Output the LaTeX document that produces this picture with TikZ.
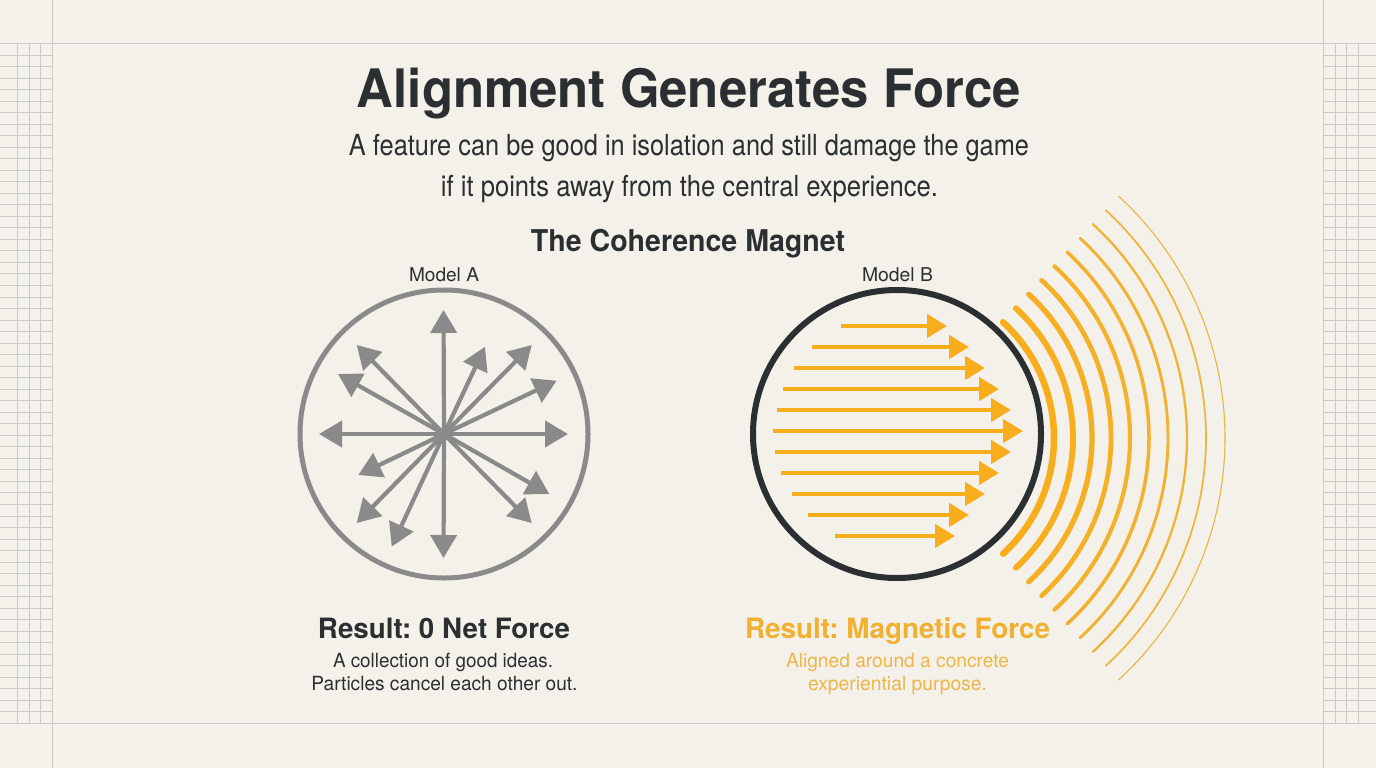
\documentclass[tikz,border=0pt]{standalone}
\usepackage{fontspec}
\setmainfont{TeX Gyre Heros}
\usetikzlibrary{arrows.meta}
\definecolor{bg}{HTML}{F3F1E9}
\definecolor{gridc}{HTML}{C8CACA}
\definecolor{dark}{HTML}{2B2F31}
\definecolor{grayA}{HTML}{8A8A8A}
\definecolor{yel}{HTML}{F8AE1C}
\definecolor{yelout}{HTML}{EDB543}
\definecolor{yeltitle}{HTML}{F1B02F}
\definecolor{yelsub}{HTML}{EDB64A}
\frenchspacing
\newcommand{\fitw}[3]{\resizebox{#1}{\height}{\fontsize{#2}{#2}\selectfont\frenchspacing #3}}
\begin{document}
\begin{tikzpicture}[x=1bp,y=-1bp,
  txt/.style={anchor=base,inner sep=0pt,outer sep=0pt},
  gridl/.style={draw=gridc,line width=1bp},
  mainl/.style={draw=gridc,line width=1.5bp},
  grayarrow/.style={draw=grayA,line width=4.2bp,-{Triangle[length=23bp,width=26bp]}},
  yelarrow/.style={draw=yel,line width=4.4bp,-{Triangle[length=20bp,width=23bp]}}]
\fill[bg] (0,0) rectangle (1376,768);
\useasboundingbox (0,0) rectangle (1376,768);
% side grids
\foreach \i in {1,...,58} {
  \pgfmathsetmacro\gy{round(43+11.525*\i)+0.5}
  \draw[gridl] (0,\gy) -- (52,\gy);
  \draw[gridl] (1323,\gy) -- (1376,\gy);
}
\foreach \x in {17.5,29.5,40.5} \draw[gridl] (\x,43) -- (\x,723);
\foreach \x in {1335.5,1346.5,1358.5} \draw[gridl] (\x,43) -- (\x,723);
\draw[mainl] (0,43.5) -- (1376,43.5);
\draw[mainl] (0,723.5) -- (1376,723.5);
\draw[mainl] (52.5,0) -- (52.5,768);
\draw[mainl] (1323.5,0) -- (1323.5,768);
% texts
\node[txt,text=dark] (title) at (689,107) {\fitw{664bp}{53bp}{\bfseries Alignment Generates Force}};
\node[txt,text=dark] (sub1) at (689,155) {\fitw{680bp}{29bp}{A feature can be good in isolation and still damage the game}};
\node[txt,text=dark] (sub2) at (689.5,196) {\fitw{497bp}{29bp}{if it points away from the central experience.}};
\node[txt,text=dark] (head) at (688,251) {\fitw{314bp}{30bp}{\bfseries The Coherence Magnet}};
\node[txt,text=dark] (modA) at (444,281) {\fitw{70bp}{19bp}{Model A}};
\node[txt,text=dark] (modB) at (897.5,281) {\fitw{71bp}{19bp}{Model B}};
\node[txt,text=dark] (resA) at (444,638.5) {\fitw{252bp}{28bp}{\bfseries Result: 0 Net Force}};
\node[txt,text=dark] (resA1) at (443,667) {\fitw{220bp}{19.5bp}{A collection of good ideas.}};
\node[txt,text=dark] (resA2) at (444.5,690) {\fitw{266bp}{19.5bp}{Particles cancel each other out.}};
\node[txt,text=yeltitle] (resB) at (897.5,638.5) {\fitw{305bp}{28bp}{\bfseries Result: Magnetic Force}};
\node[txt,text=yelsub] (resB1) at (897.5,667) {\fitw{223bp}{19.5bp}{Aligned around a concrete}};
\node[txt,text=yelsub] (resB2) at (897.5,690) {\fitw{179bp}{19.5bp}{experiential purpose.}};
% Model A
\coordinate (cA) at (444,434);
\draw[grayA,line width=5bp] (cA) circle[radius=144];
\foreach \tx/\ty [count=\n] in {443.5/310, 443.5/558, 319/434, 568/434, 356.7/345, 338/374, 485/346.7, 531.7/345, 556.7/380.7, 358.3/475, 356.7/523, 391.7/546.7, 549.3/494, 531.7/523} {
  \coordinate (tA\n) at (\tx,\ty);
  \draw[grayarrow] (cA) -- (tA\n);
}
% Model B arcs
\coordinate (cArc) at (897,438);
\foreach \i in {0,...,9} {
  \pgfmathsetmacro\R{157+19*\i}
  \pgfmathsetmacro\w{6.5-0.6*\i}
  \pgfmathsetmacro\f{100-10*\i}
  \draw[draw=yel!\f!yelout,line width=\w bp,line cap=round] (cArc) ++(-47.5:\R) arc[start angle=-47.5,end angle=47.5,radius=\R];
}
\coordinate (cB) at (897,434);
\draw[dark,line width=6bp] (cB) circle[radius=144];
\foreach \sx/\ex/\yy [count=\n] in {841/947/326, 812/969/347, 794/985/368, 783/999/389, 777/1011/410, 773/1023/431, 775/1011/452, 781/999/473, 792/985/494, 808/969/515, 835/955/536} {
  \coordinate (sB\n) at (\sx,\yy);
  \coordinate (eB\n) at (\ex,\yy);
  \draw[yelarrow] (sB\n) -- (eB\n);
}
\end{tikzpicture}
\end{document}
